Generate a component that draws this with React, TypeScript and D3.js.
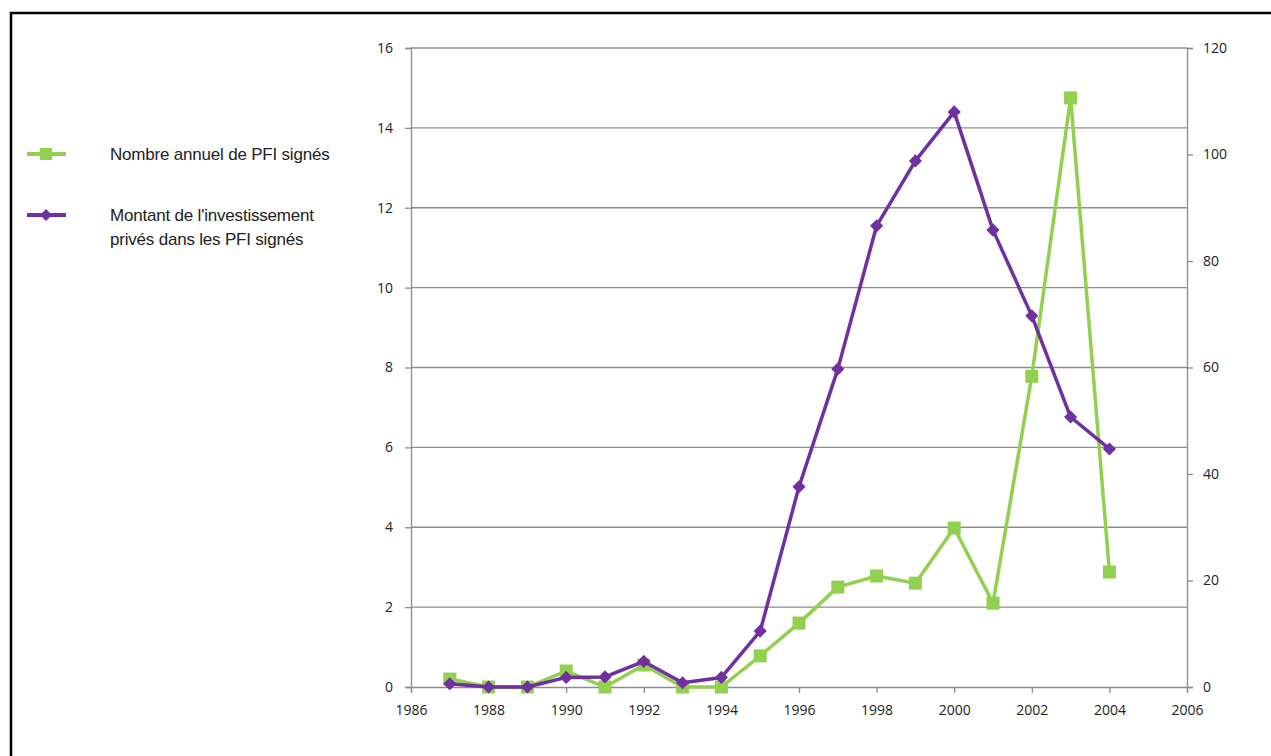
import React, { useEffect, useRef } from 'react';
import * as d3 from 'd3';

const width = 1271;
const height = 756;

// data
const years = [1987, 1988, 1989, 1990, 1991, 1992, 1993, 1994, 1995, 1996, 1997, 1998, 1999, 2000, 2001, 2002, 2003, 2004];
const nombrePFI = [0.2, 0, 0, 0.4, 0, 0.55, 0, 0, 0.78, 1.6, 2.5, 2.78, 2.6, 3.98, 2.1, 7.78, 14.75, 2.88];
const montantInvest = [0.6, 0, 0, 1.8, 1.9, 4.8, 0.8, 1.8, 10.5, 37.6, 59.7, 86.6, 98.8, 108, 85.8, 69.7, 50.7, 44.7];
const xTicks = [1986, 1988, 1990, 1992, 1994, 1996, 1998, 2000, 2002, 2004, 2006];
const leftTicks = [0, 2, 4, 6, 8, 10, 12, 14, 16];
const rightTicks = [0, 20, 40, 60, 80, 100, 120];
const legendLabels = [
  ['Nombre annuel de PFI signés'],
  ["Montant de l'investissement", 'privés dans les PFI signés'],
];

const green = '#92d050';
const purple = '#7030a0';
const gridColor = '#8c8c8c';

const margin = { left: 411, right: 1187, top: 48, bottom: 687 };

export default function App() {
  const axisRef = useRef(null);
  const plotRef = useRef(null);

  const x = d3.scaleLinear().domain([1986, 2006]).range([margin.left, margin.right]);
  const yL = d3.scaleLinear().domain([0, 16]).range([margin.bottom, margin.top]);
  const yR = d3.scaleLinear().domain([0, 120]).range([margin.bottom, margin.top]);

  useEffect(() => {
    const g = d3.select(axisRef.current);
    g.selectAll('*').remove();

    // horizontal gridlines
    g.append('g')
      .selectAll('line')
      .data(leftTicks.slice(1))
      .join('line')
      .attr('x1', margin.left)
      .attr('x2', margin.right)
      .attr('y1', (d) => yL(d))
      .attr('y2', (d) => yL(d))
      .attr('stroke', gridColor)
      .attr('stroke-width', 1.3);

    const font = (sel: any) =>
      sel
        .selectAll('.tick text')
        .attr('font-family', '"Open Sans", "DejaVu Sans", sans-serif')
        .attr('font-size', 14)
        .attr('fill', '#222');

    g.append('g')
      .attr('transform', `translate(${margin.left},0)`)
      .call(d3.axisLeft(yL).tickValues(leftTicks).tickSize(6).tickPadding(12))
      .call((s) => s.selectAll('path, line').attr('stroke', gridColor).attr('stroke-width', 1.3))
      .call(font);

    g.append('g')
      .attr('transform', `translate(${margin.right},0)`)
      .call(d3.axisRight(yR).tickValues(rightTicks).tickSize(6).tickPadding(10))
      .call((s) => s.selectAll('path, line').attr('stroke', gridColor).attr('stroke-width', 1.3))
      .call(font);

    g.append('g')
      .attr('transform', `translate(0,${margin.bottom})`)
      .call(d3.axisBottom(x).tickValues(xTicks).tickFormat(d3.format('d')).tickSize(6).tickPadding(12))
      .call((s) => s.selectAll('path, line').attr('stroke', gridColor).attr('stroke-width', 1.3))
      .call(font);
  }, []);

  useEffect(() => {
    const g = d3.select(plotRef.current);
    g.selectAll('*').remove();

    const lineL = d3.line<number>().x((_, i) => x(years[i])).y((d) => yL(d));
    const lineR = d3.line<number>().x((_, i) => x(years[i])).y((d) => yR(d));

    g.append('path')
      .attr('d', lineL(nombrePFI))
      .attr('fill', 'none')
      .attr('stroke', green)
      .attr('stroke-width', 3.5)
      .attr('stroke-linejoin', 'round');

    g.append('g')
      .selectAll('rect')
      .data(nombrePFI)
      .join('rect')
      .attr('x', (_, i) => x(years[i]) - 6.5)
      .attr('y', (d) => yL(d) - 6.5)
      .attr('width', 13)
      .attr('height', 13)
      .attr('fill', green);

    g.append('path')
      .attr('d', lineR(montantInvest))
      .attr('fill', 'none')
      .attr('stroke', purple)
      .attr('stroke-width', 3.5)
      .attr('stroke-linejoin', 'round');

    const diamond = d3.symbol(d3.symbolDiamond2, 110);
    g.append('g')
      .selectAll('path')
      .data(montantInvest)
      .join('path')
      .attr('d', diamond)
      .attr('transform', (d, i) => `translate(${x(years[i])},${yR(d)})`)
      .attr('fill', purple);
  }, []);

  const legendY = [154, 215];
  const legendColors = [green, purple];

  return (
    <svg
      width={width}
      height={height}
      style={{ position: 'absolute', left: 0, top: 0, background: '#fff' }}
    >
      <rect x={11} y={13} width={1400} height={900} fill="#fff" stroke="#000" strokeWidth={2.5} />
      <g ref={axisRef}></g>
      <g ref={plotRef}></g>
      {legendLabels.map((lines, i) => (
        <g key={i}>
          <line x1={27} x2={66} y1={legendY[i]} y2={legendY[i]} stroke={legendColors[i]} strokeWidth={4} />
          {i === 0 ? (
            <rect x={40} y={legendY[i] - 6} width={12} height={12} fill={green} />
          ) : (
            <path
              d={d3.symbol(d3.symbolDiamond2, 90)() || ''}
              transform={`translate(46,${legendY[i]})`}
              fill={purple}
            />
          )}
          {lines.map((t, j) => (
            <text
              key={j}
              x={110}
              y={legendY[i] + 6 + j * 24}
              fontFamily='"Liberation Sans", Arial, sans-serif'
              fontSize={17}
              letterSpacing={-0.2}
              fill="#222"
            >
              {t}
            </text>
          ))}
        </g>
      ))}
    </svg>
  );
}
